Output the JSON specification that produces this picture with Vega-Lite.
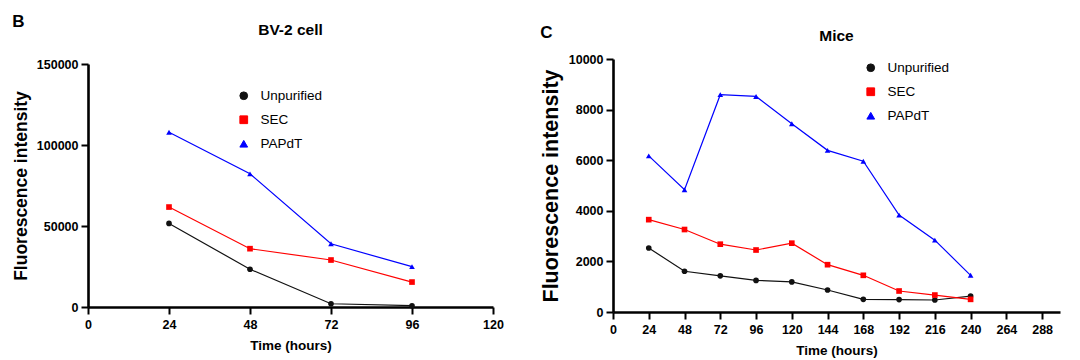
{
  "$schema": "https://vega.github.io/schema/vega-lite/v6.json",
  "padding": {"left": 12, "top": 12, "right": 5, "bottom": 2},
  "background": "white",
  "datasets": {
    "bv2": [
      {"t": 24, "series": "Unpurified", "v": 51600},
      {"t": 48, "series": "Unpurified", "v": 23300},
      {"t": 72, "series": "Unpurified", "v": 2000},
      {"t": 96, "series": "Unpurified", "v": 800},
      {"t": 24, "series": "SEC", "v": 61700},
      {"t": 48, "series": "SEC", "v": 36000},
      {"t": 72, "series": "SEC", "v": 29000},
      {"t": 96, "series": "SEC", "v": 15400},
      {"t": 24, "series": "PAPdT", "v": 107900},
      {"t": 48, "series": "PAPdT", "v": 82200},
      {"t": 72, "series": "PAPdT", "v": 39000},
      {"t": 96, "series": "PAPdT", "v": 24900}
    ],
    "mice": [
      {"t": 24, "series": "Unpurified", "v": 2530},
      {"t": 48, "series": "Unpurified", "v": 1610},
      {"t": 72, "series": "Unpurified", "v": 1430},
      {"t": 96, "series": "Unpurified", "v": 1250},
      {"t": 120, "series": "Unpurified", "v": 1190},
      {"t": 144, "series": "Unpurified", "v": 870},
      {"t": 168, "series": "Unpurified", "v": 500},
      {"t": 192, "series": "Unpurified", "v": 490},
      {"t": 216, "series": "Unpurified", "v": 475},
      {"t": 240, "series": "Unpurified", "v": 630},
      {"t": 24, "series": "SEC", "v": 3650},
      {"t": 48, "series": "SEC", "v": 3260},
      {"t": 72, "series": "SEC", "v": 2680},
      {"t": 96, "series": "SEC", "v": 2450},
      {"t": 120, "series": "SEC", "v": 2720},
      {"t": 144, "series": "SEC", "v": 1870},
      {"t": 168, "series": "SEC", "v": 1450},
      {"t": 192, "series": "SEC", "v": 830},
      {"t": 216, "series": "SEC", "v": 670},
      {"t": 240, "series": "SEC", "v": 500},
      {"t": 24, "series": "PAPdT", "v": 6170},
      {"t": 48, "series": "PAPdT", "v": 4830},
      {"t": 72, "series": "PAPdT", "v": 8590},
      {"t": 96, "series": "PAPdT", "v": 8520},
      {"t": 120, "series": "PAPdT", "v": 7440},
      {"t": 144, "series": "PAPdT", "v": 6390},
      {"t": 168, "series": "PAPdT", "v": 5960},
      {"t": 192, "series": "PAPdT", "v": 3830},
      {"t": 216, "series": "PAPdT", "v": 2840},
      {"t": 240, "series": "PAPdT", "v": 1450}
    ]
  },
  "spacing": 36,
  "center": true,
  "resolve": {
    "scale": {"color": "independent", "shape": "independent"},
    "legend": {"color": "independent", "shape": "independent"}
  },
  "hconcat": [
    {
      "title": {"text": "B", "anchor": "start", "frame": "bounds", "fontSize": 17, "offset": -8, "font": "Liberation Sans", "fontWeight": "bold", "color": "black"},
      "hconcat": [
        {
          "width": 405,
          "height": 243,
          "title": {"text": "BV-2 cell", "offset": 20, "fontSize": 15.5, "font": "Liberation Sans", "fontWeight": "bold", "color": "black"},
          "data": {"name": "bv2"},
          "layer": [
            {
              "mark": {"type": "line", "strokeWidth": 1.2},
              "encoding": {
                "x": {"field": "t", "type": "quantitative", "scale": {"domain": [0, 120], "nice": false}, "axis": {"values": [0, 24, 48, 72, 96, 120], "tickCount": 20, "title": "Time (hours)"}},
                "y": {"field": "v", "type": "quantitative", "scale": {"domain": [0, 150000], "nice": false}, "axis": {"values": [0, 50000, 100000, 150000], "tickCount": 20, "format": "d", "title": "Fluorescence intensity", "titleFontSize": 17.5}},
                "color": {"field": "series", "type": "nominal", "scale": {"domain": ["Unpurified", "SEC", "PAPdT"], "range": ["#111111", "#ff0000", "#0000ff"]}}
              }
            },
            {
              "mark": {"type": "point", "filled": true, "opacity": 1, "size": 32},
              "encoding": {
                "x": {"field": "t", "type": "quantitative"},
                "y": {"field": "v", "type": "quantitative"},
                "color": {"field": "series", "type": "nominal", "scale": {"domain": ["Unpurified", "SEC", "PAPdT"], "range": ["#111111", "#ff0000", "#0000ff"]},
                  "legend": {"title": null, "orient": "none", "legendX": 149, "legendY": 25}},
                "shape": {"field": "series", "type": "nominal", "scale": {"domain": ["Unpurified", "SEC", "PAPdT"], "range": ["circle", "square", "triangle-up"]},
                  "legend": {"title": null, "orient": "none", "legendX": 149, "legendY": 25}}
              }
            }
          ]
        }
      ]
    },
    {
      "title": {"text": "C", "anchor": "start", "frame": "bounds", "fontSize": 17, "offset": -13, "font": "Liberation Sans", "fontWeight": "bold", "color": "black"},
      "hconcat": [
        {
          "width": 447,
          "height": 253,
          "title": {"text": "Mice", "offset": 9, "fontSize": 15.5, "font": "Liberation Sans", "fontWeight": "bold", "color": "black"},
          "data": {"name": "mice"},
          "layer": [
            {
              "mark": {"type": "line", "strokeWidth": 1.2},
              "encoding": {
                "x": {"field": "t", "type": "quantitative", "scale": {"domain": [0, 300], "nice": false}, "axis": {"values": [0, 24, 48, 72, 96, 120, 144, 168, 192, 216, 240, 264, 288], "tickCount": 20, "title": "Time (hours)", "labelOverlap": false}},
                "y": {"field": "v", "type": "quantitative", "scale": {"domain": [0, 10000], "nice": false}, "axis": {"values": [0, 2000, 4000, 6000, 8000, 10000], "tickCount": 20, "format": "d", "title": "Fluorescence intensity", "titleFontSize": 21.5}},
                "color": {"field": "series", "type": "nominal", "scale": {"domain": ["Unpurified", "SEC", "PAPdT"], "range": ["#111111", "#ff0000", "#0000ff"]}}
              }
            },
            {
              "mark": {"type": "point", "filled": true, "opacity": 1, "size": 32},
              "encoding": {
                "x": {"field": "t", "type": "quantitative"},
                "y": {"field": "v", "type": "quantitative"},
                "color": {"field": "series", "type": "nominal", "scale": {"domain": ["Unpurified", "SEC", "PAPdT"], "range": ["#111111", "#ff0000", "#0000ff"]},
                  "legend": {"title": null, "orient": "none", "legendX": 251, "legendY": 2}},
                "shape": {"field": "series", "type": "nominal", "scale": {"domain": ["Unpurified", "SEC", "PAPdT"], "range": ["circle", "square", "triangle-up"]},
                  "legend": {"title": null, "orient": "none", "legendX": 251, "legendY": 2}}
              }
            }
          ]
        }
      ]
    }
  ],
  "config": {
    "font": "Liberation Sans",
    "view": {"stroke": null},
    "title": {"font": "Liberation Sans", "fontSize": 15.5, "fontWeight": "bold", "color": "black", "anchor": "middle"},
    "axis": {
      "grid": false,
      "domainColor": "black",
      "domainWidth": 2.6,
      "tickColor": "black",
      "tickWidth": 2,
      "tickSize": 7,
      "labelFont": "Liberation Sans",
      "labelFontWeight": "bold",
      "labelFontSize": 12.5,
      "labelColor": "black",
      "labelPadding": 3,
      "labelFlush": false,
      "labelOverlap": false,
      "titleFont": "Liberation Sans",
      "titleFontWeight": "bold",
      "titleColor": "black"
    },
    "axisX": {"titleFontSize": 13.5, "titlePadding": 8, "labelPadding": 4},
    "axisY": {"titlePadding": 6},
    "legend": {
      "labelFont": "Liberation Sans",
      "labelFontSize": 13.5,
      "labelColor": "black",
      "symbolSize": 60,
      "labelOffset": 10,
      "rowPadding": 9,
      "symbolStrokeWidth": 1
    }
  }
}
